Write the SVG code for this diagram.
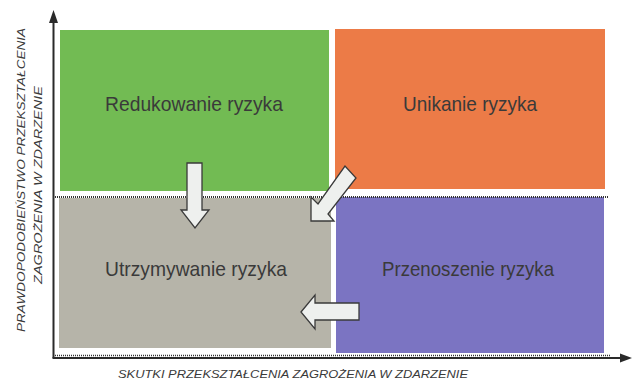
<svg xmlns="http://www.w3.org/2000/svg" width="633" height="383" viewBox="0 0 633 383">
  <style>
    .q { stroke: none; }
    .lbl { font-family: "Liberation Sans", Arial, sans-serif; font-size: 21px; fill: #3a3a3a; text-anchor: start; }
    .ax { font-family: "Liberation Sans", Arial, sans-serif; font-size: 11.5px; font-style: italic; fill: #3a3a3a; }
    .arr { fill: #eef0ee; stroke: #3a3a3a; stroke-width: 1.3; stroke-linejoin: miter; }
    .dot { stroke: #333; stroke-width: 2; stroke-dasharray: 1 1; fill: none; }
    .axis { stroke: #2a2a2a; stroke-width: 2; fill: none; }
  </style>
  <rect width="633" height="383" fill="#ffffff"/>

  <g id="redukowanie">
    <rect class="q" x="60" y="30" width="269" height="161" fill="#72bb53"/>
    <text class="lbl" x="105" y="111" textLength="178" lengthAdjust="spacingAndGlyphs">Redukowanie ryzyka</text>
  </g>
  <g id="unikanie">
    <rect class="q" x="335" y="29" width="270" height="160" fill="#ec7b47"/>
    <text class="lbl" x="403" y="111" textLength="134" lengthAdjust="spacingAndGlyphs">Unikanie ryzyka</text>
  </g>
  <g id="utrzymywanie">
    <rect class="q" x="59" y="198" width="272" height="150" fill="#b6b4a9"/>
    <text class="lbl" x="105" y="276" textLength="182" lengthAdjust="spacingAndGlyphs">Utrzymywanie ryzyka</text>
  </g>
  <g id="przenoszenie">
    <rect class="q" x="336" y="197" width="268" height="156" fill="#7b74c2"/>
    <text class="lbl" x="382" y="276" textLength="172" lengthAdjust="spacingAndGlyphs">Przenoszenie ryzyka</text>
  </g>

  <g id="axes">
    <line class="dot" x1="55" y1="197" x2="609" y2="197"/>
    <line class="axis" x1="53.5" y1="20" x2="53.5" y2="358"/>
    <polygon points="53.5,10 49,23 58,23" fill="#2a2a2a"/>
    <line class="axis" x1="52.5" y1="358" x2="622" y2="358"/>
    <line class="dot" x1="55" y1="355.5" x2="610" y2="355.5" style="stroke-width:1.5"/>
    <polygon points="632,358 620,353.5 620,362.5" fill="#2a2a2a"/>
    <text class="ax" x="293" y="378" text-anchor="middle" textLength="350" lengthAdjust="spacingAndGlyphs">SKUTKI PRZEKSZTAŁCENIA ZAGROŻENIA W ZDARZENIE</text>
    <text class="ax" transform="translate(25,180) rotate(-90)" text-anchor="middle" textLength="304" lengthAdjust="spacingAndGlyphs">PRAWDOPODOBIEŃSTWO PRZEKSZTAŁCENIA</text>
    <text class="ax" transform="translate(42,185) rotate(-90)" text-anchor="middle" textLength="198" lengthAdjust="spacingAndGlyphs">ZAGROŻENIA W ZDARZENIE</text>
  </g>

  <g id="connectors">
    <polygon class="arr" points="187,163 202,163 202,210 209,210 195,228 181,210 187,210"/>
    <polygon class="arr" points="311,221 311,197 318,204 345,166 356,178 328,214 334,221"/>
    <polygon class="arr" points="301,312 315,295 315,303 359,303 359,320 315,320 315,329"/>
  </g>
</svg>
